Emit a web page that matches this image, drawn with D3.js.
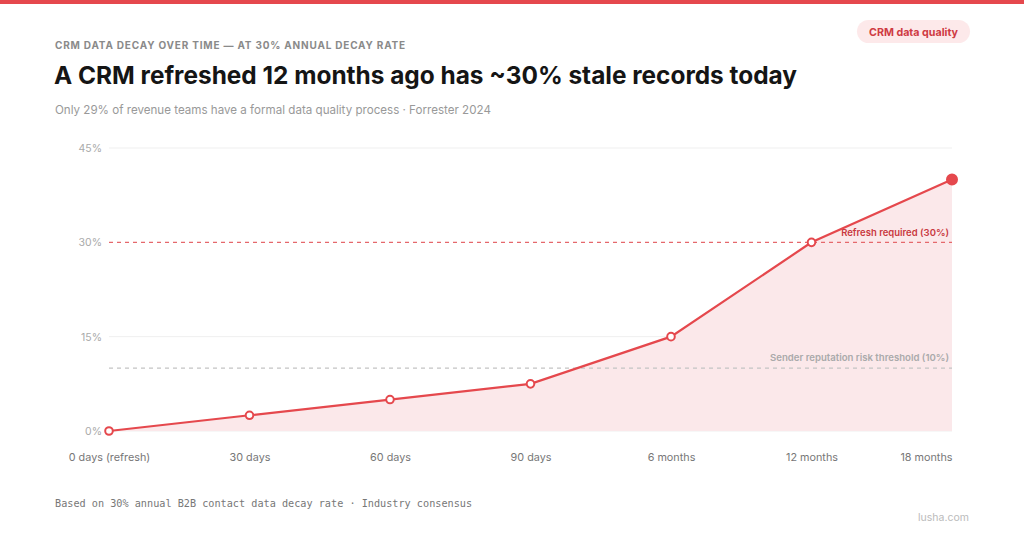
<!DOCTYPE html>
<html>
<head>
<meta charset="utf-8">
<script src="https://cdn.jsdelivr.net/npm/d3@7"></script>
<style>
  body { margin: 0; background: #fff; }
  svg { display: block; font-family: Inter, 'Noto Sans', sans-serif; }
</style>
</head>
<body>
<div id="chart"></div>
<script>
// chart data
var categories = ['0 days (refresh)', '30 days', '60 days', '90 days', '6 months', '12 months', '18 months'];
var staleShare = [0, 2.5, 5, 7.5, 15, 30, 40];
var yTicks = [0, 15, 30, 45];
var refreshLine = 30;
var riskLine = 10;

var svgWidth = 1024;
var svgHeight = 538;
var red = '#e5484d';

var svg = d3.select('#chart')
    .append('svg')
    .attr('width', svgWidth)
    .attr('height', svgHeight);

// top bar
svg.append('rect')
    .attr('x', 0).attr('y', 0)
    .attr('width', svgWidth).attr('height', 4)
    .attr('fill', red);

// header texts
svg.append('text')
    .attr('x', 55).attr('y', 49)
    .attr('fill', '#8a8a8a')
    .style('font-size', '10px')
    .style('font-weight', 700)
    .style('letter-spacing', '0.8px')
    .text('CRM DATA DECAY OVER TIME — AT 30% ANNUAL DECAY RATE');

svg.append('text')
    .attr('x', 54).attr('y', 84)
    .attr('fill', '#151515')
    .style('font-size', '24.4px')
    .style('font-weight', 700)
    .text('A CRM refreshed 12 months ago has ~30% stale records today');

svg.append('text')
    .attr('x', 55).attr('y', 114)
    .attr('fill', '#999')
    .style('font-size', '11.6px')
    .text('Only 29% of revenue teams have a formal data quality process · Forrester 2024');

// pill
svg.append('rect')
    .attr('x', 857).attr('y', 20)
    .attr('width', 113).attr('height', 23)
    .attr('rx', 11.5)
    .attr('fill', '#fde9ea');

svg.append('text')
    .attr('x', 913.5).attr('y', 35.5)
    .attr('text-anchor', 'middle')
    .attr('fill', '#cf3b43')
    .style('font-size', '10.7px')
    .style('font-weight', 700)
    .text('CRM data quality');

// scales
var x = d3.scalePoint()
    .domain(categories)
    .range([109, 952]);

var y = d3.scaleLinear()
    .domain([0, 45])
    .range([431, 148]);

var chart = svg.append('g');

// gridlines
chart.selectAll('.grid')
    .data(yTicks.filter(d => d !== refreshLine))
    .enter()
    .append('line')
    .attr('x1', 109).attr('x2', 952)
    .attr('y1', d => y(d)).attr('y2', d => y(d))
    .attr('stroke', '#efefef')
    .attr('stroke-width', 1);

// y axis labels
var yAxis = d3.axisLeft(y)
    .tickValues(yTicks)
    .tickSize(0)
    .tickPadding(7)
    .tickFormat(d => d + '%');

chart.append('g')
    .attr('transform', 'translate(109,0)')
    .call(yAxis)
    .call(g => g.select('.domain').remove())
    .selectAll('text')
    .attr('fill', '#aaa')
    .style('font-size', '10.5px')
    .style('font-family', 'Inter, sans-serif');

// x axis labels
var xAxis = d3.axisBottom(x)
    .tickSize(0)
    .tickPadding(0);

chart.append('g')
    .attr('transform', 'translate(0,453)')
    .call(xAxis)
    .call(g => g.select('.domain').remove())
    .selectAll('text')
    .attr('fill', '#777')
    .attr('text-anchor', (d, i) => i === categories.length - 1 ? 'end' : 'middle')
    .style('font-size', '10.8px')
    .style('font-family', 'Inter, sans-serif');

// area
var area = d3.area()
    .x((d, i) => x(categories[i]))
    .y0(y(0))
    .y1(d => y(d));

chart.append('path')
    .datum(staleShare)
    .attr('d', area)
    .attr('fill', '#fbe8ea');

// threshold lines
chart.append('line')
    .attr('x1', 109).attr('x2', 952)
    .attr('y1', y(refreshLine)).attr('y2', y(refreshLine))
    .attr('stroke', '#e5686c')
    .attr('stroke-width', 1.2)
    .attr('stroke-dasharray', '4,4');

chart.append('line')
    .attr('x1', 109).attr('x2', 952)
    .attr('y1', y(riskLine)).attr('y2', y(riskLine))
    .attr('stroke', '#c4c4c4')
    .attr('stroke-width', 1.2)
    .attr('stroke-dasharray', '4,4');

chart.append('text')
    .attr('x', 949).attr('y', y(refreshLine) - 6)
    .attr('text-anchor', 'end')
    .attr('fill', '#c9383f')
    .style('font-size', '9.5px')
    .style('font-weight', 600)
    .text('Refresh required (30%)');

chart.append('text')
    .attr('x', 949).attr('y', y(riskLine) - 7)
    .attr('text-anchor', 'end')
    .attr('fill', '#aaa')
    .style('font-size', '9.6px')
    .style('font-weight', 600)
    .text('Sender reputation risk threshold (10%)');

// line
var line = d3.line()
    .x((d, i) => x(categories[i]))
    .y(d => y(d));

chart.append('path')
    .datum(staleShare)
    .attr('d', line)
    .attr('fill', 'none')
    .attr('stroke', red)
    .attr('stroke-width', 2.2);

// points
chart.selectAll('.pt')
    .data(staleShare)
    .enter()
    .append('circle')
    .attr('cx', (d, i) => x(categories[i]))
    .attr('cy', d => y(d))
    .attr('r', (d, i) => i === staleShare.length - 1 ? 5 : 3.8)
    .attr('fill', (d, i) => i === staleShare.length - 1 ? red : '#fff')
    .attr('stroke', red)
    .attr('stroke-width', 2);

// footer
svg.append('text')
    .attr('x', 55).attr('y', 507)
    .attr('fill', '#777')
    .style('font-size', '10.2px')
    .style('font-family', "'DejaVu Sans Mono', monospace")
    .text('Based on 30% annual B2B contact data decay rate · Industry consensus');

svg.append('text')
    .attr('x', 969).attr('y', 521)
    .attr('text-anchor', 'end')
    .attr('fill', '#bbb')
    .style('font-size', '10.5px')
    .text('lusha.com');
</script>
</body>
</html>
